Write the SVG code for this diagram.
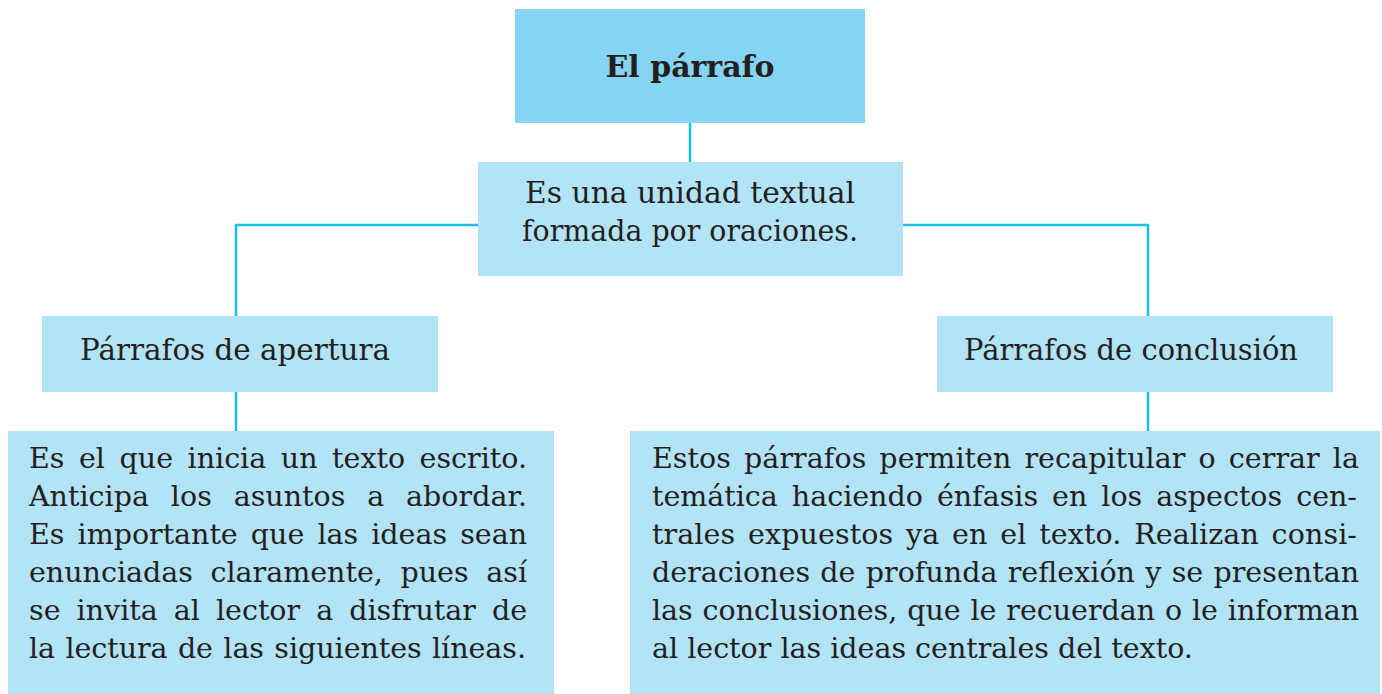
<svg xmlns="http://www.w3.org/2000/svg" width="1382" height="694" viewBox="0 0 1382 694">
<style>
.dark{fill:#85D4F4}
.light{fill:#B3E3F7}
.t{font-family:"DejaVu Serif","Liberation Serif",serif;font-size:29px;fill:#231F20}
.p{font-size:28.5px}
.b{font-weight:bold}
.c{fill:none;stroke:#1CBCEB;stroke-width:2.5}
</style>
<rect width="1382" height="694" fill="#FFFFFF"/>
<g id="connectors">
<path class="c" d="M690 123V162"/>
<path class="c" d="M478 225H236V316"/>
<path class="c" d="M903 225H1148V316"/>
<path class="c" d="M236 392V431"/>
<path class="c" d="M1148 392V431"/>
</g>
<g id="title">
<rect class="dark" x="515" y="9" width="350" height="114"/>
<text class="t b" x="690" y="77" text-anchor="middle" textLength="169" lengthAdjust="spacingAndGlyphs">El párrafo</text>
</g>
<g id="definition">
<rect class="light" x="478" y="162" width="425" height="114"/>
<text class="t" x="525" y="203" textLength="330" lengthAdjust="spacingAndGlyphs">Es una unidad textual</text>
<text class="t" x="522" y="241" textLength="336" lengthAdjust="spacingAndGlyphs">formada por oraciones.</text>
</g>
<g id="apertura">
<rect class="light" x="42" y="316" width="396" height="76"/>
<text class="t" x="80" y="360" textLength="310" lengthAdjust="spacingAndGlyphs">Párrafos de apertura</text>
</g>
<g id="conclusion">
<rect class="light" x="937" y="316" width="396" height="76"/>
<text class="t" x="964" y="360" textLength="334" lengthAdjust="spacingAndGlyphs">Párrafos de conclusión</text>
</g>
<g id="apertura-text">
<rect class="light" x="8" y="431" width="546" height="263"/>
<text class="t p" x="29" y="468" word-spacing="5.5" textLength="498" lengthAdjust="spacing">Es el que inicia un texto escrito.</text>
<text class="t p" x="29" y="506" word-spacing="12.8" textLength="498" lengthAdjust="spacing">Anticipa los asuntos a abordar.</text>
<text class="t p" x="29" y="544" word-spacing="4.1" textLength="498" lengthAdjust="spacing">Es importante que las ideas sean</text>
<text class="t p" x="29" y="582" word-spacing="8.6" textLength="498" lengthAdjust="spacing">enunciadas claramente, pues así</text>
<text class="t p" x="29" y="620" word-spacing="7" textLength="498" lengthAdjust="spacing">se invita al lector a disfrutar de</text>
<text class="t p" x="29" y="658" word-spacing="1.3" textLength="497" lengthAdjust="spacing">la lectura de las siguientes líneas.</text>
</g>
<g id="conclusion-text">
<rect class="light" x="630" y="431" width="750" height="263"/>
<text class="t p" x="652" y="468" word-spacing="3.9" textLength="707" lengthAdjust="spacing">Estos párrafos permiten recapitular o cerrar la</text>
<text class="t p" x="652" y="506" word-spacing="5" textLength="705" lengthAdjust="spacing">temática haciendo énfasis en los aspectos cen-</text>
<text class="t p" x="652" y="544" word-spacing="3.6" textLength="705" lengthAdjust="spacing">trales expuestos ya en el texto. Realizan consi-</text>
<text class="t p" x="652" y="582" word-spacing="1.2" textLength="707" lengthAdjust="spacing">deraciones de profunda reflexión y se presentan</text>
<text class="t p" x="652" y="620" word-spacing="0.8" textLength="707" lengthAdjust="spacing">las conclusiones, que le recuerdan o le informan</text>
<text class="t p" x="652" y="658">al lector las ideas centrales del texto.</text>
</g>
</svg>
